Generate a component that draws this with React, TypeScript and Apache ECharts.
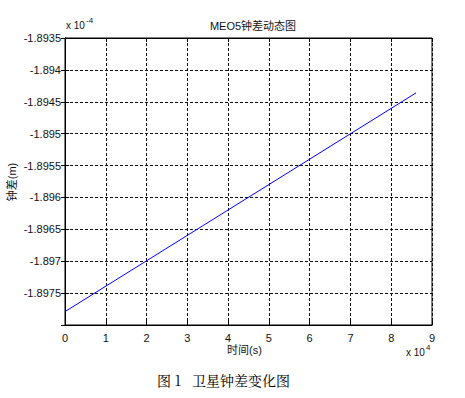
import React, { useEffect, useRef } from "react";
import * as echarts from "echarts";

// time in units of 1e4 s, clock bias in units of 1e-4 m
const timeValues = [0, 8.61];
const clockBias = [-1.89779, -1.89436];
const xTicks = [0, 1, 2, 3, 4, 5, 6, 7, 8, 9];
const yMin = -1.898;
const yMax = -1.8935;
const yStep = 0.0005;

const FONT = "Liberation Sans, Arial, sans-serif";
const CJK = "Liberation Sans, 'Noto Sans CJK SC', sans-serif";

export default function App() {
  const ref = useRef<HTMLDivElement>(null);
  useEffect(() => {
    if (!ref.current) return;
    const chart = echarts.init(ref.current, null, { renderer: "svg" });
    const data = timeValues.map((t, i) => [t, clockBias[i]]);
    const yFmt = (v: number) => {
      if (Math.abs(v - yMin) < 1e-9) return "";
      return String(parseFloat(v.toFixed(4)));
    };
    const grid = { left: 65, top: 38, right: 33, bottom: 73 };
    chart.setOption({
      animation: false,
      backgroundColor: "#fff",
      grid: { ...grid, show: true, borderColor: "#000", borderWidth: 1, backgroundColor: "transparent" },
      title: {
        text: "MEO5钟差动态图",
        left: 248,
        top: 15,
        textAlign: "center",
        textStyle: { fontFamily: CJK, fontSize: 11, fontWeight: "normal", color: "#111" },
      },
      xAxis: [
        {
          type: "value",
          min: xTicks[0],
          max: xTicks[xTicks.length - 1],
          interval: 1,
          position: "bottom",
          axisLine: { show: true, lineStyle: { color: "#000", width: 1 } },
          axisTick: { show: true, inside: true, length: 4, lineStyle: { color: "#000" } },
          axisLabel: { color: "#111", fontFamily: FONT, fontSize: 11, margin: 7 },
          splitLine: { show: true, lineStyle: { color: "#111", type: [3, 2], width: 1 } },
        },
        {
          type: "value",
          min: xTicks[0],
          max: xTicks[xTicks.length - 1],
          interval: 1,
          position: "top",
          axisLine: { show: true, lineStyle: { color: "#000" } },
          axisTick: { show: true, inside: true, length: 4, lineStyle: { color: "#000" } },
          axisLabel: { show: false },
          splitLine: { show: false },
        },
      ],
      yAxis: [
        {
          type: "value",
          min: yMin,
          max: yMax,
          interval: yStep,
          position: "left",
          axisLine: { show: true, lineStyle: { color: "#000" } },
          axisTick: { show: true, inside: true, length: 4, lineStyle: { color: "#000" } },
          axisLabel: { color: "#111", fontFamily: FONT, fontSize: 11, margin: 4, formatter: yFmt },
          splitLine: { show: true, lineStyle: { color: "#111", type: [3, 2], width: 1 } },
        },
        {
          type: "value",
          min: yMin,
          max: yMax,
          interval: yStep,
          position: "right",
          axisLine: { show: true, lineStyle: { color: "#000" } },
          axisTick: { show: true, inside: true, length: 4, lineStyle: { color: "#000" } },
          axisLabel: { show: false },
          splitLine: { show: false },
        },
      ],
      series: [
        {
          type: "line",
          data,
          xAxisIndex: 0,
          yAxisIndex: 0,
          symbol: "none",
          lineStyle: { color: "#0000ff", width: 1 },
        },
      ],
      graphic: [
        {
          type: "text",
          left: 66,
          top: 20,
          style: { text: "x 10", fontFamily: FONT, fontSize: 10, fill: "#111" },
        },
        {
          type: "text",
          left: 86,
          top: 16,
          style: { text: "-4", fontFamily: FONT, fontSize: 8, fill: "#111" },
        },
        {
          type: "text",
          left: 406,
          top: 347,
          style: { text: "x 10", fontFamily: FONT, fontSize: 10, fill: "#111" },
        },
        {
          type: "text",
          left: 426,
          top: 343,
          style: { text: "4", fontFamily: FONT, fontSize: 8, fill: "#111" },
        },
        {
          type: "text",
          left: 227,
          top: 344,
          style: { text: "时间(s)", fontFamily: CJK, fontSize: 11, fill: "#111" },
        },
        {
          type: "text",
          x: 12,
          y: 182,
          rotation: Math.PI / 2,
          style: {
            text: "钟差(m)",
            fontFamily: CJK,
            fontSize: 11,
            fill: "#111",
            align: "center",
            verticalAlign: "middle",
          },
        },
        {
          type: "text",
          left: 157,
          top: 373,
          style: {
            text: "图 1   卫星钟差变化图",
            fontFamily: "'Noto Serif CJK SC', 'Noto Sans CJK SC', serif",
            fontSize: 14,
            fill: "#000",
          },
        },
      ],
    });
    return () => chart.dispose();
  }, []);
  return (
    <div
      ref={ref}
      style={{ position: "fixed", left: 0, top: 0, width: 465, height: 398, background: "#fff" }}
    />
  );
}
